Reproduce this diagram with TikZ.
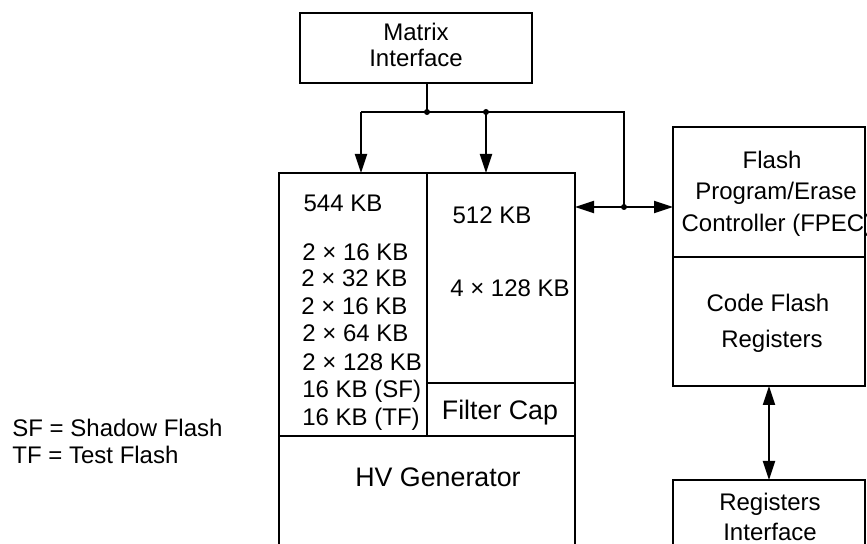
\documentclass[tikz,border=0pt]{standalone}
\usepackage{fontspec}
\setmainfont{Liberation Sans}
\usetikzlibrary{arrows.meta,calc}
\newcommand\bx[5]{\node[box, minimum width={#4*0.5pt}, minimum height={#5*0.5pt}] (#1) at (#2,#3) {};}
\begin{document}
\begin{tikzpicture}[x=0.5pt,y=-0.5pt,
  box/.style={draw, line width=1.1pt, inner sep=0pt, outer sep=0pt, anchor=north west},
  txt/.style={font=\fontsize{12}{13}\selectfont, inner sep=0pt, anchor=base},
  bigtxt/.style={txt, font=\fontsize{13.4}{15}\selectfont},
  txtl/.style={txt, anchor=base west},
  conn/.style={line width=1pt},
  arr/.style={conn, -{Triangle[length=9.5pt,width=6pt]}},
  biarr/.style={conn, {Triangle[length=9.5pt,width=6pt]}-{Triangle[length=9.5pt,width=6pt]}},
  dot/.style={circle, fill, inner sep=0pt, minimum size=3pt}]
\useasboundingbox (0,0) rectangle (867,544);
\clip (0,0) rectangle (867,544);
% boxes
\bx{mi}{300}{13}{232}{70}
\bx{m544}{279}{173}{148}{263}
\bx{m512}{427}{173}{148}{210}
\bx{fc}{427}{383}{148}{53}
\bx{hv}{279}{436}{296}{200}
\bx{fpec}{673}{127}{192}{130}
\bx{cfr}{673}{257}{192}{129}
\bx{ri}{673}{480}{192}{150}
% texts
\node[txt] (t1) at (416,40.5) {Matrix};
\node[txt] (t2) at (416,66.5) {Interface};
\node[txt] (t3) at (343,211.5) {544 KB};
\node[txt] (t4) at (492,223.5) {512 KB};
\node[txtl] (l1) at (302,260.5) {2 × 16 KB};
\node[txtl] (l2) at (301,286.5) {2 × 32 KB};
\node[txtl] (l3) at (301,314.5) {2 × 16 KB};
\node[txtl] (l4) at (302,341.5) {2 × 64 KB};
\node[txtl] (l5) at (302,370.5) {2 × 128 KB};
\node[txtl] (l6) at (302,397.5) {16 KB (SF)};
\node[txtl] (l7) at (302,425.5) {16 KB (TF)};
\node[txt] (t5) at (510,296.5) {4 × 128 KB};
\node[bigtxt] (t6) at (500,419.5) {Filter Cap};
\node[bigtxt] (t7) at (438,486.5) {HV Generator};
\node[txt] (t8) at (772,168.5) {Flash};
\node[txt] (t9) at (776,199.5) {Program/Erase};
\node[txt] (t10) at (777,231.5) {Controller (FPEC)};
\node[txt] (t11) at (768,311.5) {Code Flash};
\node[txt] (t12) at (772,347.5) {Registers};
\node[txt] (t13) at (770,510.5) {Registers};
\node[txt] (t14) at (770,540.5) {Interface};
\node[txtl] (s1) at (12,436.5) {SF = Shadow Flash};
\node[txtl] (s2) at (12,463.5) {TF = Test Flash};
% connectors
\coordinate (cl) at (361,112);
\coordinate (j1) at (427,112);
\coordinate (j2) at (486,112);
\coordinate (j3) at (624,207);
\draw[conn] (mi.south -| j1) -- (j1);
\draw[conn] (cl) -- (j1) -- (j2) -| (j3);
\draw[arr] (cl) -- (cl |- m544.north);
\draw[arr] (j2) -- (j2 |- m512.north);
\draw[biarr] (j3 -| m512.east) -- (j3 -| fpec.west);
\draw[biarr] (cfr.south) -- (ri.north);
\node[dot] (d1) at (j1) {};
\node[dot] (d2) at (j2) {};
\node[dot] (d3) at (j3) {};
\end{tikzpicture}
\end{document}
